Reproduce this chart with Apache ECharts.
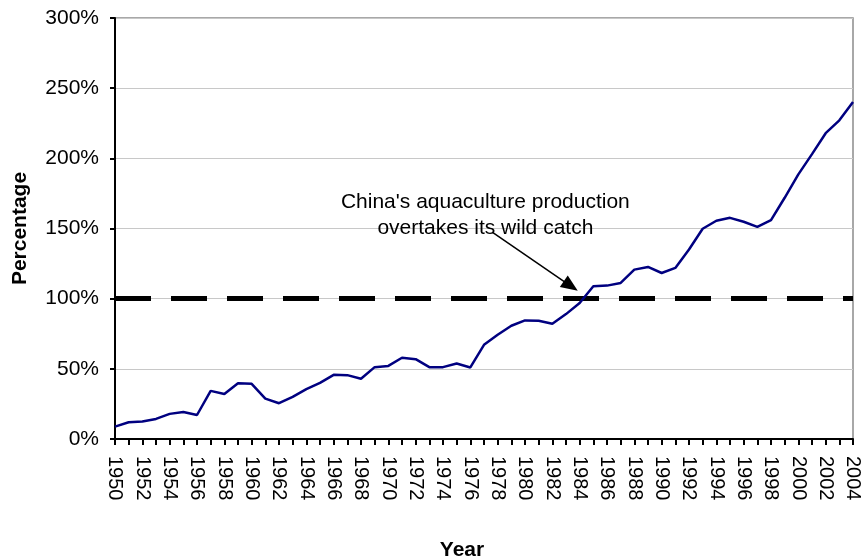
<!DOCTYPE html>
<html>
<head>
<meta charset="utf-8">
<script src="https://cdn.jsdelivr.net/npm/echarts@6/dist/echarts.min.js"></script>
<style>
  html, body { margin: 0; padding: 0; background: #fff; }
  #chart { width: 864px; height: 560px; }
</style>
</head>
<body>
<div id="chart"></div>
<script>
const years = [1950,1951,1952,1953,1954,1955,1956,1957,1958,1959,1960,1961,1962,1963,1964,1965,1966,1967,1968,1969,1970,1971,1972,1973,1974,1975,1976,1977,1978,1979,1980,1981,1982,1983,1984,1985,1986,1987,1988,1989,1990,1991,1992,1993,1994,1995,1996,1997,1998,1999,2000,2001,2002,2003,2004];
const percentage = [8.8,11.9,12.4,14.3,17.9,19.3,17.1,34.3,32.1,39.8,39.3,28.8,25.5,30.0,35.5,40.0,45.7,45.5,42.9,51.2,52.1,57.9,56.9,51.2,51.2,53.8,51.0,67.1,74.3,80.7,84.5,84.3,82.1,89.0,96.9,108.8,109.3,111.2,120.7,122.6,118.3,121.9,135.0,149.8,155.5,157.6,154.8,151.2,155.9,171.9,188.6,203.0,217.9,227.1,240.2];
const yTicks = [0, 50, 100, 150, 200, 250, 300];
const thresholdValue = 100;
const annotationText = "China's aquaculture production\novertakes its wild catch";
const arrowFrom = [1977.6, 147.5];
const arrowTo = [1983.35, 109];
const annotationAnchor = [1977.1, 159.3];

const FONT = 'Arial, "Liberation Sans", Helvetica, sans-serif';
const chart = echarts.init(document.getElementById('chart'));

const seriesData = years.map((y, i) => [y, percentage[i]]);

chart.setOption({
  animation: false,
  backgroundColor: '#ffffff',
  grid: {
    left: 115, right: 11, top: 18, bottom: 121,
    containLabel: false,
    outerBoundsMode: 'none',
    show: true, borderColor: '#8c8c8c', borderWidth: 1.5, backgroundColor: 'transparent'
  },
  xAxis: {
    type: 'value',
    min: years[0], max: years[years.length - 1], interval: 1,
    name: 'Year',
    nameLocation: 'middle',
    nameGap: 101,
    nameTextStyle: { fontFamily: FONT, fontSize: 21, fontWeight: 'bold', color: '#000', padding: [0, 44, 0, 0] },
    axisLine: { show: true, lineStyle: { color: '#000', width: 2 } },
    axisTick: { show: true, length: 6, lineStyle: { color: '#000', width: 2 } },
    splitLine: { show: false },
    axisLabel: {
      rotate: -90, margin: 17,
      fontFamily: FONT, fontSize: 20, color: '#000',
      formatter: v => (v % 2 === 0 ? String(v) : '')
    }
  },
  yAxis: {
    type: 'value',
    min: yTicks[0], max: yTicks[yTicks.length - 1], interval: 50,
    name: 'Percentage',
    nameLocation: 'middle',
    nameGap: 84,
    nameTextStyle: { fontFamily: FONT, fontSize: 21, fontWeight: 'bold', color: '#000' },
    axisLine: { show: true, lineStyle: { color: '#000', width: 2 } },
    axisTick: { show: true, length: 5, lineStyle: { color: '#000', width: 2 } },
    splitLine: { show: true, lineStyle: { color: '#c8c8c8', width: 1 } },
    axisLabel: { margin: 16, fontFamily: FONT, fontSize: 21, color: '#000', formatter: '{value}%' }
  },
  series: [
    {
      type: 'line',
      data: seriesData,
      symbol: 'none',
      lineStyle: { color: '#000080', width: 2.5 },
      z: 3,
      markLine: {
        silent: true,
        symbol: 'none',
        label: { show: false },
        lineStyle: { color: '#000', width: 5, type: [36, 20] },
        data: [{ yAxis: thresholdValue }],
        z: 2
      }
    },
    {
      type: 'line',
      data: [],
      markLine: {
        silent: true,
        label: { show: false },
        lineStyle: { color: '#000', width: 1.5, type: 'solid' },
        symbolSize: [14, 17],
        data: [[
          { coord: arrowFrom, symbol: 'none' },
          { coord: arrowTo, symbol: 'triangle' }
        ]],
        z: 5
      }
    }
  ]
});

const p = chart.convertToPixel({ gridIndex: 0 }, annotationAnchor);
chart.setOption({
  graphic: [{
    type: 'text',
    x: p[0], y: p[1],
    style: {
      text: annotationText,
      font: '21px ' + FONT,
      fill: '#000',
      align: 'center',
      verticalAlign: 'middle',
      lineHeight: 26
    },
    z: 10
  }]
});
</script>
</body>
</html>
